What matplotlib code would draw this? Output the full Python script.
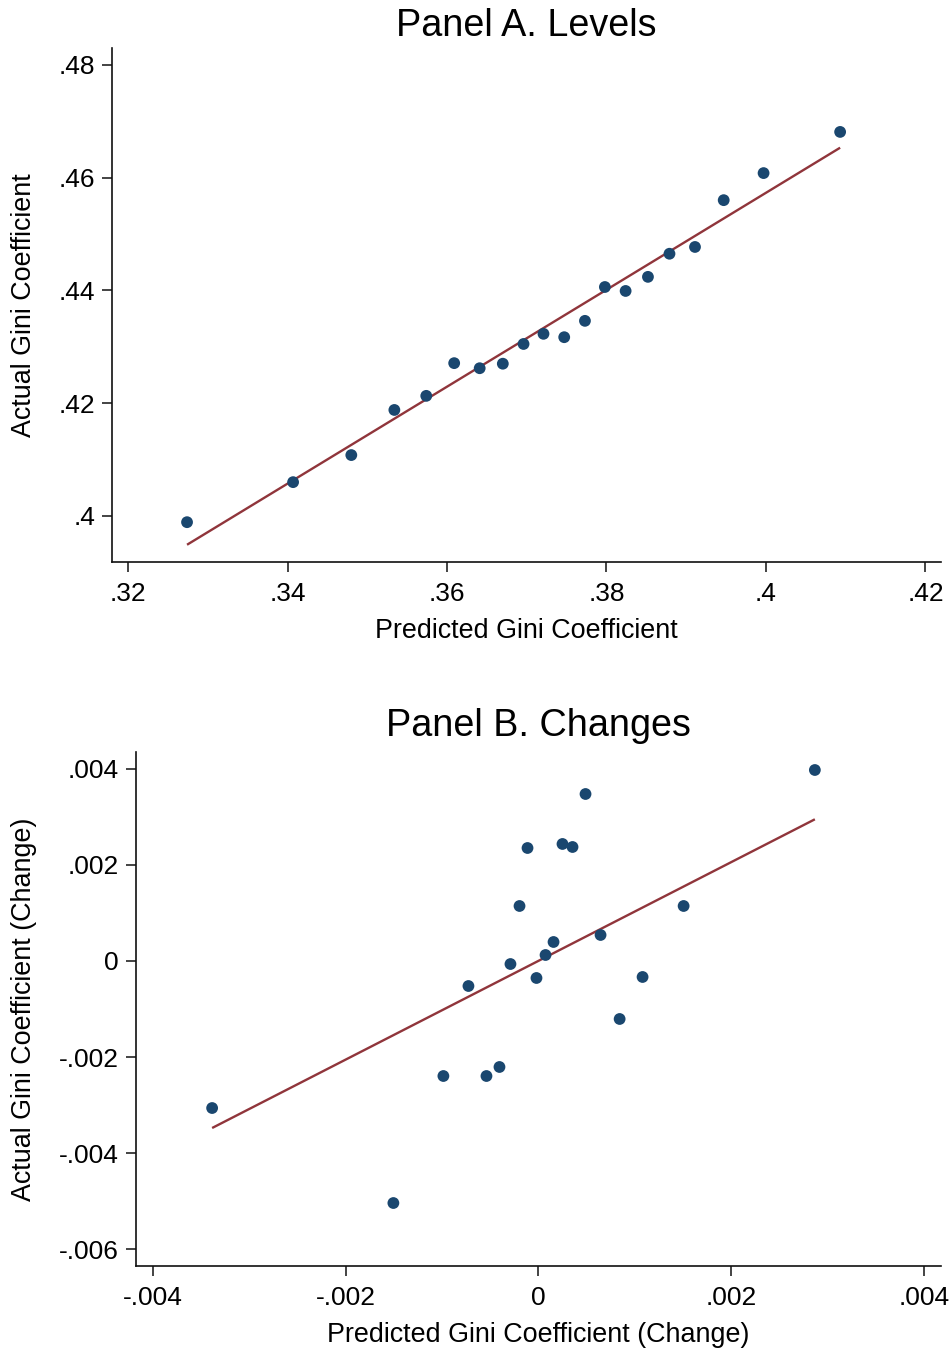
import numpy as np
import matplotlib
matplotlib.use("Agg")
import matplotlib.pyplot as plt

plt.rcParams['font.family'] = ['Liberation Sans', 'DejaVu Sans']

# ---------------- Data ----------------
# Panel A: levels
pred_levels = [0.3274, 0.3407, 0.3480, 0.3534, 0.3574, 0.3609, 0.3641, 0.3670,
               0.3696, 0.3721, 0.3747, 0.3773, 0.3798, 0.3824, 0.3852, 0.3879,
               0.3911, 0.3947, 0.3997, 0.4093]
actual_levels = [0.3989, 0.4060, 0.4108, 0.4188, 0.4213, 0.4271, 0.4262, 0.4270,
                 0.4305, 0.4323, 0.4317, 0.4346, 0.4406, 0.4399, 0.4424, 0.4465,
                 0.4477, 0.4560, 0.4608, 0.4681]
# fitted line: endpoints x and y
fit_a_x = [0.3274, 0.4093]
fit_a_y = [0.3949, 0.4653]

# Panel B: changes
pred_changes = [-0.003387, -0.001506, -0.000987, -0.000727, -0.000540, -0.000405,
                -0.000291, -0.000197, -0.000114, -0.000021, 0.000073, 0.000156,
                0.000249, 0.000353, 0.000488, 0.000644, 0.000842, 0.001080,
                0.001506, 0.002868]
actual_changes = [-0.003063, -0.005042, -0.002396, -0.000521, -0.002396, -0.002208,
                  -0.000063, 0.001146, 0.002354, -0.000354, 0.000125, 0.000396,
                  0.002438, 0.002375, 0.003479, 0.000542, -0.001208, -0.000333,
                  0.001146, 0.003979]
fit_b_x = [-0.003387, 0.002868]
fit_b_y = [-0.003479, 0.002952]

# Tick values and labels
a_xticks = [0.32, 0.34, 0.36, 0.38, 0.40, 0.42]
a_xticklabels = ['.32', '.34', '.36', '.38', '.4', '.42']
a_yticks = [0.40, 0.42, 0.44, 0.46, 0.48]
a_yticklabels = ['.4', '.42', '.44', '.46', '.48']
b_xticks = [-0.004, -0.002, 0.0, 0.002, 0.004]
b_xticklabels = ['-.004', '-.002', '0', '.002', '.004']
b_yticks = [0.004, 0.002, 0.0, -0.002, -0.004, -0.006]
b_yticklabels = ['.004', '.002', '0', '-.002', '-.004', '-.006']

titles = ['Panel A. Levels', 'Panel B. Changes']
xlabels = ['Predicted Gini Coefficient', 'Predicted Gini Coefficient (Change)']
ylabels = ['Actual Gini Coefficient', 'Actual Gini Coefficient (Change)']

# ---------------- Style ----------------
DOT = '#1a476f'
LINE = '#90353b'
W, H = 953, 1351

fig = plt.figure(figsize=(W / 100, H / 100), dpi=100)
fig.patch.set_facecolor('white')


def px_axes(l, t, r, b):
    return fig.add_axes([l / W, 1 - b / H, (r - l) / W, (b - t) / H])


def panel(ax, x, y, fx, fy, xticks, xtl, yticks, ytl, xlim, ylim, title, xl, yl,
          title_pad, ylab_x):
    ax.scatter(x, y, s=72, color=DOT, edgecolors='none', zorder=3)
    ax.plot(fx, fy, color=LINE, lw=1.7, zorder=2, solid_capstyle='butt')
    ax.set_xlim(*xlim)
    ax.set_ylim(*ylim)
    ax.set_xticks(xticks)
    ax.set_xticklabels(xtl)
    ax.set_yticks(yticks)
    ax.set_yticklabels(ytl)
    for s in ['top', 'right']:
        ax.spines[s].set_visible(False)
    for s in ['left', 'bottom']:
        ax.spines[s].set_linewidth(1.2)
        ax.spines[s].set_color('#111111')
    ax.tick_params(axis='both', direction='out', length=7.2, width=1.1,
                   color='#111111', labelsize=19, labelcolor='black')
    ax.tick_params(axis='x', pad=7)
    ax.tick_params(axis='y', pad=5)
    ax.set_title(title, fontsize=27.2, pad=title_pad)
    ax.set_xlabel(xl, fontsize=19.4)
    ax.xaxis.label.set_va('baseline')
    ax.xaxis.set_label_coords(0.5, -0.148)
    ax.set_ylabel(yl, fontsize=19.4)
    ax.yaxis.label.set_va('center')
    ax.yaxis.set_label_coords(ylab_x, 0.5)


axA = px_axes(112, 48, 941, 562)
panel(axA, pred_levels, actual_levels, fit_a_x, fit_a_y, a_xticks, a_xticklabels,
      a_yticks, a_yticklabels, (0.31799, 0.42195), (0.39184, 0.48298), titles[0],
      xlabels[0], ylabels[0], 8.6, (24 - 112) / 829)

axB = px_axes(136, 752, 941, 1266)
panel(axB, pred_changes, actual_changes, fit_b_x, fit_b_y, b_xticks, b_xticklabels,
      b_yticks, b_yticklabels, (-0.004177, 0.004177), (-0.006354, 0.004354),
      titles[1], xlabels[1], ylabels[1], 11.5, (24 - 136) / 805)

fig.savefig('out.png', dpi=100, facecolor='white')
